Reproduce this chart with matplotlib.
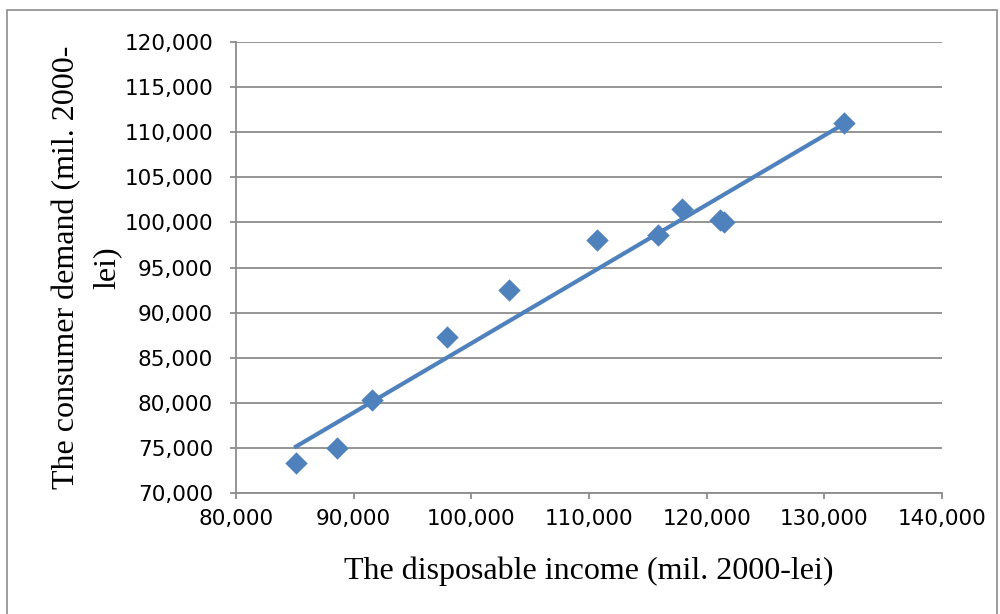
import matplotlib
matplotlib.use("Agg")
import matplotlib.pyplot as plt
import matplotlib.ticker as mticker
from matplotlib.patches import Rectangle
import numpy as np

# disposable income vs consumer demand (mil. 2000-lei)
income = [85100, 88600, 91550, 97900, 103200, 110700, 115850, 117900, 121150, 121450, 131650]
demand = [73350, 75000, 80300, 87300, 92500, 98050, 98550, 101450, 100300, 100100, 111000]

x_ticks = [80000, 90000, 100000, 110000, 120000, 130000, 140000]
y_ticks = [70000, 75000, 80000, 85000, 90000, 95000, 100000, 105000, 110000, 115000, 120000]

blue = "#4F81BD"
grid_gray = "#8C8C8C"

fig = plt.figure(figsize=(10, 6.14), dpi=100)
ax = fig.add_axes([0.236, 0.197, 0.706, 0.7346])

# linear trend line over the data range
slope, intercept = np.polyfit(income, demand, 1)
xs = np.array([min(income), max(income)])
ax.plot(xs, slope * xs + intercept, color=blue, linewidth=3, zorder=2)

ax.scatter(income, demand, marker="D", s=130, color=blue, zorder=3, linewidths=0)

ax.set_xlim(80000, 140000)
ax.set_ylim(70000, 120000)
ax.set_xticks(x_ticks)
ax.set_yticks(y_ticks)
fmt = mticker.FuncFormatter(lambda v, p: f"{int(v):,}")
ax.xaxis.set_major_formatter(fmt)
ax.yaxis.set_major_formatter(fmt)

ax.grid(axis="y", color=grid_gray, linewidth=1.3)
ax.set_axisbelow(True)
for side in ["top", "right"]:
    ax.spines[side].set_visible(False)
for side in ["left", "bottom"]:
    ax.spines[side].set_color(grid_gray)
    ax.spines[side].set_linewidth(1.3)
ax.tick_params(axis="both", direction="out", length=4.5, width=1.3, color=grid_gray,
               labelsize=15.5, labelcolor="black")
ax.tick_params(axis="x", pad=7)
ax.tick_params(axis="y", pad=12)
for lab in ax.get_xticklabels() + ax.get_yticklabels():
    lab.set_family("DejaVu Sans")

ax.set_xlabel("The disposable income (mil. 2000-lei)", family="Liberation Serif",
              fontsize=23, labelpad=20)
ax.set_ylabel("The consumer demand (mil. 2000-\nlei)", family="Liberation Serif",
              fontsize=23, labelpad=2, linespacing=1.5)

# outer chart frame
fig.patches.append(Rectangle((0.007, -0.01), 0.99, 0.994, transform=fig.transFigure,
                             fill=False, edgecolor="#8C8C8C", linewidth=1.2))

fig.savefig("out.png", dpi=100)
